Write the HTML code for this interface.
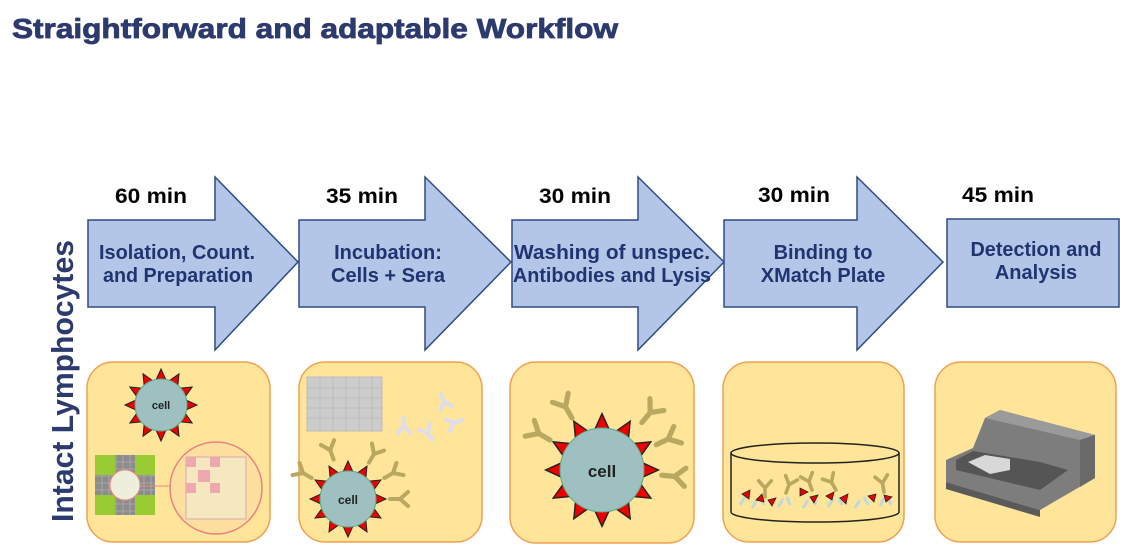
<!DOCTYPE html>
<html><head><meta charset="utf-8"><style>
html,body{margin:0;padding:0;background:#fff;}
svg{display:block;}
</style></head><body>
<svg width="1132" height="554" viewBox="0 0 1132 554" xmlns="http://www.w3.org/2000/svg" font-family="Liberation Sans, sans-serif">
<defs>
<g id="sp"><polygon points="-5,0 5,0 0,-11" fill="#e00" stroke="#222" stroke-width="1"/></g>
<g id="ab" fill="none" stroke="#b8a860" stroke-width="4" stroke-linecap="round"><path d="M0,0 L0,-10 M0,-10 L-7,-18 M0,-10 L7,-18"/></g>
<g id="abw" fill="none" stroke="#dde" stroke-width="4" stroke-linecap="round"><path d="M0,0 L0,-8 M0,-8 L-6,-15 M0,-8 L6,-15"/></g>
</defs>
<text x="12" y="38" font-size="28" font-weight="bold" fill="#2d3a6e" stroke="#2d3a6e" stroke-width="0.8" textLength="606" lengthAdjust="spacingAndGlyphs">Straightforward and adaptable Workflow</text>
<text transform="translate(73,522) rotate(-90)" font-size="31" font-weight="bold" fill="#2d3a6e" textLength="282" lengthAdjust="spacingAndGlyphs">Intact Lymphocytes</text>

<g fill="#b4c6e7" stroke="#2f4a86" stroke-width="1.5">
<polygon points="88,220 215,220 215,177 298,262 215,350 215,307 88,307"/>
<polygon points="299,220 425,220 425,177 511,262 425,350 425,307 299,307"/>
<polygon points="512,220 638,220 638,177 724,262 638,350 638,307 512,307"/>
<polygon points="724,220 857,220 857,177 943,262 857,350 857,307 724,307"/>
<rect x="947" y="219" width="172" height="88"/>
</g>
<g font-size="21" font-weight="bold" fill="#000">
<text x="115" y="203" textLength="72" lengthAdjust="spacingAndGlyphs">60 min</text>
<text x="326" y="203" textLength="72" lengthAdjust="spacingAndGlyphs">35 min</text>
<text x="539" y="203" textLength="72" lengthAdjust="spacingAndGlyphs">30 min</text>
<text x="758" y="202" textLength="72" lengthAdjust="spacingAndGlyphs">30 min</text>
<text x="962" y="202" textLength="72" lengthAdjust="spacingAndGlyphs">45 min</text>
</g>
<g font-size="20" font-weight="bold" fill="#1f3470" text-anchor="middle">
<text x="177" y="259" textLength="156" lengthAdjust="spacingAndGlyphs">Isolation, Count.</text><text x="178" y="282" textLength="150" lengthAdjust="spacingAndGlyphs">and Preparation</text>
<text x="388" y="259">Incubation:</text><text x="388" y="282">Cells + Sera</text>
<text x="612" y="259" textLength="196" lengthAdjust="spacingAndGlyphs">Washing of unspec.</text><text x="612" y="282" textLength="198" lengthAdjust="spacingAndGlyphs">Antibodies and Lysis</text>
<text x="823" y="259">Binding to</text><text x="823" y="282">XMatch Plate</text>
<text x="1036" y="256" textLength="131" lengthAdjust="spacingAndGlyphs">Detection and</text><text x="1036" y="279">Analysis</text>
</g>

<g fill="#ffe599" stroke="#f0a050" stroke-width="1.5">
<rect x="87" y="362" width="183" height="180" rx="26"/>
<rect x="299" y="362" width="183" height="180" rx="26"/>
<rect x="510" y="362" width="184" height="181" rx="26"/>
<rect x="723" y="362" width="181" height="180" rx="26"/>
<rect x="935" y="362" width="181" height="180" rx="26"/>
</g>

<!-- panel 1 -->
<g transform="translate(161,405)">
<g transform="rotate(0) translate(0,-25)"><use href="#sp"/></g>
<g transform="rotate(30) translate(0,-25)"><use href="#sp"/></g>
<g transform="rotate(60) translate(0,-25)"><use href="#sp"/></g>
<g transform="rotate(90) translate(0,-25)"><use href="#sp"/></g>
<g transform="rotate(120) translate(0,-25)"><use href="#sp"/></g>
<g transform="rotate(150) translate(0,-25)"><use href="#sp"/></g>
<g transform="rotate(180) translate(0,-25)"><use href="#sp"/></g>
<g transform="rotate(210) translate(0,-25)"><use href="#sp"/></g>
<g transform="rotate(240) translate(0,-25)"><use href="#sp"/></g>
<g transform="rotate(270) translate(0,-25)"><use href="#sp"/></g>
<g transform="rotate(300) translate(0,-25)"><use href="#sp"/></g>
<g transform="rotate(330) translate(0,-25)"><use href="#sp"/></g>
<circle r="26" fill="#9fc0c0" stroke="#5a8"/>
<text y="4" font-size="11" font-weight="bold" text-anchor="middle" fill="#222">cell</text>
</g>
<rect x="95" y="455" width="60" height="60" fill="#8c8c8c"/>
<g stroke="#bbb" stroke-width="0.6"><path d="M95,462H155M95,469H155M95,476H155M95,483H155M95,490H155M95,497H155M95,504H155M95,511H155M102,455V515M109,455V515M116,455V515M123,455V515M130,455V515M137,455V515M144,455V515M151,455V515"/></g>
<rect x="95" y="455" width="20" height="20" fill="#9c3"/><rect x="135" y="455" width="20" height="20" fill="#9c3"/>
<rect x="95" y="495" width="20" height="20" fill="#9c3"/><rect x="135" y="495" width="20" height="20" fill="#9c3"/>
<circle cx="125" cy="485" r="15" fill="#eed" stroke="#e88"/>
<line x1="140" y1="486" x2="172" y2="486" stroke="#e88"/>
<circle cx="216" cy="488" r="46" fill="#fde0a0" stroke="#f08080" stroke-width="1.5"/>
<rect x="186" y="457" width="60" height="62" fill="#f5e8c0" stroke="#c9a" stroke-width="0.8"/>
<g fill="#f0a8b0"><rect x="186" y="457" width="10" height="10"/><rect x="210" y="457" width="10" height="10"/><rect x="198" y="470" width="12" height="12"/><rect x="186" y="483" width="10" height="10"/><rect x="210" y="483" width="10" height="10"/></g>

<!-- panel 2 -->
<rect x="307" y="377" width="75" height="54" fill="#ccc" stroke="#bbb"/>
<g fill="none" stroke="#b0b0b0" stroke-width="0.6"><path d="M307,388H382M307,398H382M307,408H382M307,418H382M320,377V431M333,377V431M346,377V431M359,377V431M372,377V431"/></g>
<use href="#abw" transform="translate(404,418) rotate(180)"/>
<use href="#abw" transform="translate(441,394) rotate(160)"/>
<use href="#abw" transform="translate(462,420) rotate(-110)"/>
<use href="#abw" transform="translate(432,440) rotate(-30)"/>
<g transform="translate(348,499)">
<g transform="rotate(0) translate(0,-27)"><use href="#sp"/></g>
<g transform="rotate(30) translate(0,-27)"><use href="#sp"/></g>
<g transform="rotate(60) translate(0,-27)"><use href="#sp"/></g>
<g transform="rotate(90) translate(0,-27)"><use href="#sp"/></g>
<g transform="rotate(120) translate(0,-27)"><use href="#sp"/></g>
<g transform="rotate(150) translate(0,-27)"><use href="#sp"/></g>
<g transform="rotate(180) translate(0,-27)"><use href="#sp"/></g>
<g transform="rotate(210) translate(0,-27)"><use href="#sp"/></g>
<g transform="rotate(240) translate(0,-27)"><use href="#sp"/></g>
<g transform="rotate(270) translate(0,-27)"><use href="#sp"/></g>
<g transform="rotate(300) translate(0,-27)"><use href="#sp"/></g>
<g transform="rotate(330) translate(0,-27)"><use href="#sp"/></g>
<use href="#ab" transform="rotate(-20) translate(0,-42)"/>
<use href="#ab" transform="rotate(30) translate(0,-42)"/>
<use href="#ab" transform="rotate(60) translate(0,-42)"/>
<use href="#ab" transform="rotate(-60) translate(0,-42)"/>
<use href="#ab" transform="rotate(90) translate(0,-42)"/>
<circle r="28" fill="#9fc0c0" stroke="#5a8"/>
<text y="5" font-size="12" font-weight="bold" text-anchor="middle" fill="#222">cell</text>
</g>

<!-- panel 3 -->
<g transform="translate(602,470)">
<g transform="rotate(0) translate(0,-41)"><use href="#sp" transform="scale(1.4)"/></g>
<g transform="rotate(30) translate(0,-41)"><use href="#sp" transform="scale(1.4)"/></g>
<g transform="rotate(60) translate(0,-41)"><use href="#sp" transform="scale(1.4)"/></g>
<g transform="rotate(90) translate(0,-41)"><use href="#sp" transform="scale(1.4)"/></g>
<g transform="rotate(120) translate(0,-41)"><use href="#sp" transform="scale(1.4)"/></g>
<g transform="rotate(150) translate(0,-41)"><use href="#sp" transform="scale(1.4)"/></g>
<g transform="rotate(180) translate(0,-41)"><use href="#sp" transform="scale(1.4)"/></g>
<g transform="rotate(210) translate(0,-41)"><use href="#sp" transform="scale(1.4)"/></g>
<g transform="rotate(240) translate(0,-41)"><use href="#sp" transform="scale(1.4)"/></g>
<g transform="rotate(270) translate(0,-41)"><use href="#sp" transform="scale(1.4)"/></g>
<g transform="rotate(300) translate(0,-41)"><use href="#sp" transform="scale(1.4)"/></g>
<g transform="rotate(330) translate(0,-41)"><use href="#sp" transform="scale(1.4)"/></g>
<use href="#ab" transform="rotate(-30) translate(0,-60) scale(1.3)"/>
<use href="#ab" transform="rotate(-60) translate(0,-60) scale(1.3)"/>
<use href="#ab" transform="rotate(40) translate(0,-62) scale(1.3)"/>
<use href="#ab" transform="rotate(65) translate(0,-60) scale(1.3)"/>
<use href="#ab" transform="rotate(95) translate(0,-60) scale(1.3)"/>
<circle r="42" fill="#9fc0c0" stroke="#5a8"/>
<text y="7" font-size="17" font-weight="bold" text-anchor="middle" fill="#222">cell</text>
</g>

<!-- panel 4 -->
<path d="M731,453 V512 A84,10 0 0 0 899,512 V453" fill="none" stroke="#222" stroke-width="1.5"/>
<ellipse cx="815" cy="453" rx="84" ry="10" fill="none" stroke="#222" stroke-width="1.5"/>
<g fill="none" stroke="#bcd8e0" stroke-width="3">
<path d="M740,505 l5,-8 M752,508 l5,-8 M764,505 l-4,-8 M778,507 l5,-8 M790,505 l-3,-8 M803,508 l5,-8 M816,505 l-4,-8 M828,507 l5,-8 M842,505 l-3,-8 M855,508 l5,-8 M868,505 l-4,-8 M880,506 l4,-8 M891,505 l-3,-8"/>
</g>
<use href="#ab" transform="translate(765,497) scale(0.9)"/>
<use href="#ab" transform="translate(786,493) rotate(20) scale(0.9)"/>
<use href="#ab" transform="translate(812,490) rotate(-20) scale(0.9)"/>
<use href="#ab" transform="translate(836,490) rotate(-30) scale(0.9)"/>
<use href="#ab" transform="translate(884,492) rotate(-10) scale(0.9)"/>
<g fill="#e00" stroke="#222" stroke-width="0.8">
<polygon points="742,494 750,490 749,499"/><polygon points="756,500 762,494 764,502"/><polygon points="768,500 776,498 772,506"/><polygon points="800,488 808,492 800,496"/><polygon points="810,497 818,495 814,503"/><polygon points="826,496 834,492 832,500"/><polygon points="840,498 848,494 846,504"/><polygon points="868,496 876,494 874,502"/><polygon points="884,495 892,497 886,502"/>
</g>

<!-- panel 5 -->
<polygon points="946,460 973,448 985,418 1000,410 1095,435 1095,478 1040,510 946,482" fill="#7d7d7d"/>
<polygon points="985,418 1000,410 1095,435 1080,440" fill="#9a9a9a"/>
<polygon points="1080,440 1095,435 1095,478 1080,487" fill="#6a6a6a"/>
<polygon points="946,482 1040,510 1040,517 946,489" fill="#5a5a5a"/>
<polygon points="956,460 973,451 1040,462 1068,470 1040,490 956,470" fill="#555"/>
<polygon points="968,462 985,455 1010,459 1010,470 990,474" fill="#d8d8d8"/>
</svg>
</body></html>
